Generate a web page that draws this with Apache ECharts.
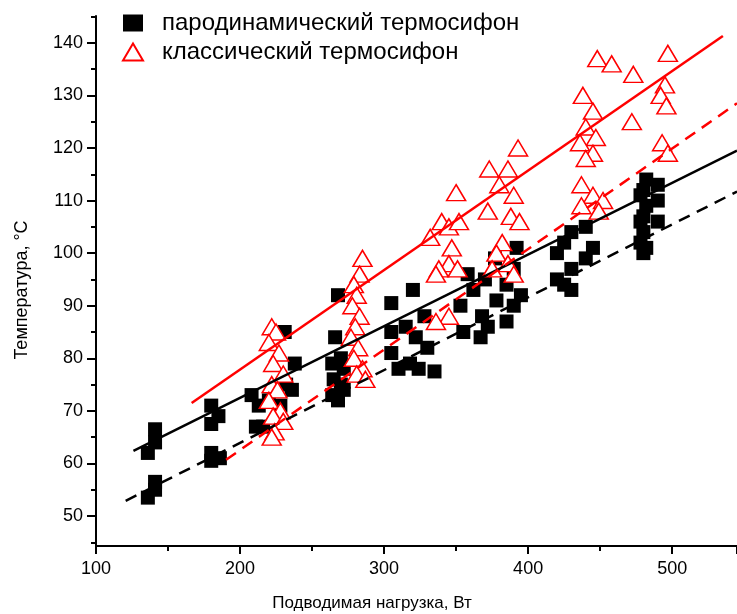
<!DOCTYPE html>
<html>
<head>
<meta charset="utf-8">
<script src="https://cdn.jsdelivr.net/npm/echarts@6/dist/echarts.min.js"></script>
<style>
  html, body { margin: 0; padding: 0; background: #fff; }
  #chart { width: 737px; height: 614px; }
</style>
</head>
<body>
<div id="chart"></div>
<script>
// пародинамический термосифон (black squares)
const paroLoad = [136, 141, 141, 141, 141, 136,
  180, 185, 180, 180, 180, 186,
  208, 213, 211, 216, 220,
  231, 238, 236, 232, 228,
  268, 266, 270, 264, 272, 265, 270, 264, 268, 272,
  320, 305, 328, 315, 305, 322, 330, 305, 318, 310, 324, 335,
  392, 377, 390, 358, 370, 385, 362, 395, 378, 353, 368, 385, 372, 355, 367, 390,
  440, 430, 425, 445, 420, 440, 430, 420, 425, 430,
  482, 480, 478, 482, 480, 478, 480, 478, 482, 480,
  490, 490, 490]
const paroTemp = [62, 66.5, 64, 56.5, 55, 53.5,
  71, 69, 67.5, 62, 60.5, 61,
  73, 71, 67, 67, 72,
  85, 79, 74, 75, 71,
  92, 84, 80, 79, 78, 76, 75, 73, 72, 74,
  93, 90.5, 88, 86, 85, 84, 82, 81, 79, 78, 78, 77.5,
  101, 99, 97, 96, 95, 94, 93, 92, 91, 90, 88, 87, 86, 85, 84, 90,
  105, 104, 102, 101, 100, 99, 97, 95, 94, 93,
  114, 112, 111, 109, 107, 106, 104, 102, 101, 100,
  113, 110, 106]

// классический термосифон (red triangles)
const classLoad = [222, 225, 220, 227, 223, 230, 222, 226, 220, 228, 223, 230, 224, 222,
  285, 283, 279, 281, 278, 283, 280, 277, 282, 279, 285, 281, 287,
  340, 345, 332, 347, 345, 338, 336, 345, 336,
  350, 352, 351,
  393, 373, 386, 380, 390, 372, 388, 394, 382, 378, 386, 375, 390,
  448, 458, 438, 445, 440, 447, 436, 445, 440, 437, 445, 452, 437, 449,
  473, 472,
  497, 495, 492, 496, 493, 497]
const classTemp = [86, 85, 83, 81, 79, 77, 75, 74, 72, 70, 69, 68, 66, 65,
  99, 96, 94, 92, 90, 88, 86, 84, 82, 80, 78, 77, 76,
  106, 105, 103, 101, 98, 97, 96, 88, 87,
  111.5, 106, 97,
  120, 116, 116, 113, 111, 108, 107, 106, 102, 100, 98, 97, 96,
  137, 136, 130, 127, 124, 122, 121, 119, 118, 113, 111, 110, 109, 108,
  134, 125,
  138, 132, 130, 128, 121, 119]

// fitted lines, end points
const paroFit = [[126, 62.4], [545, 119.5]]
const paroFitLow = [[120.6, 52.9], [545, 111.7]]
const classFit = [[166.4, 71.5], [535.2, 141.3]]
const classFitLow = [[190.3, 60.7], [545, 128.5]]

const xTicks = [100, 200, 300, 400, 500]
const yTicks = [50, 60, 70, 80, 90, 100, 110, 120, 130, 140]
const yMinorTicks = [45, 55, 65, 75, 85, 95, 105, 115, 125, 135, 145]

const names = ['пародинамический термосифон', 'классический термосифон']
const font = 'Liberation Sans, Arial, sans-serif'

const zip = (a, b) => a.map((v, i) => [v, b[i]])

const chart = echarts.init(document.getElementById('chart'))
chart.setOption({
  animation: false,
  backgroundColor: '#fff',
  textStyle: { fontFamily: font },
  grid: { left: 96, right: 0, top: 16, bottom: 68 },
  legend: {
    data: names,
    orient: 'vertical',
    left: 117,
    top: 6,
    itemWidth: 20,
    itemHeight: 17,
    itemGap: 5,
    textStyle: { fontSize: 24, color: '#000', fontFamily: font, padding: [0, 0, 0, 14] }
  },
  xAxis: {
    type: 'value',
    min: 100,
    max: 545,
    interval: 100,
    splitLine: { show: false },
    axisLine: { lineStyle: { color: '#000', width: 2 } },
    axisTick: { length: 8, lineStyle: { color: '#000', width: 2 } },
    minorTick: { show: true, splitNumber: 2, length: 5, lineStyle: { color: '#000', width: 2 } },
    axisLabel: { color: '#000', fontSize: 18, margin: 14, customValues: xTicks }
  },
  yAxis: [{
    type: 'value',
    min: 44.3,
    max: 145.1,
    splitLine: { show: false },
    axisLine: { lineStyle: { color: '#000', width: 2 } },
    axisTick: { length: 9, lineStyle: { color: '#000', width: 2 }, customValues: yTicks },
    axisLabel: { color: '#000', fontSize: 18, margin: 13, customValues: yTicks }
  }, {
    type: 'value',
    min: 44.3,
    max: 145.1,
    position: 'left',
    splitLine: { show: false },
    axisLine: { show: false },
    axisTick: { length: 5, lineStyle: { color: '#000', width: 2 }, customValues: yMinorTicks },
    axisLabel: { show: false }
  }],
  graphic: [{
    type: 'text',
    x: 372,
    y: 603,
    style: { text: 'Подводимая нагрузка, Вт', font: '17px ' + font, fill: '#000', textAlign: 'center', textVerticalAlign: 'middle' }
  }, {
    type: 'text',
    x: 22,
    y: 290,
    rotation: Math.PI / 2,
    style: { text: 'Температура, °C', font: '18px ' + font, fill: '#000', textAlign: 'center', textVerticalAlign: 'middle' }
  }],
  series: [{
    name: names[0],
    type: 'scatter',
    symbol: 'rect',
    symbolSize: 14,
    itemStyle: { color: '#000', opacity: 1 },
    data: zip(paroLoad, paroTemp)
  }, {
    name: names[1],
    type: 'scatter',
    symbol: 'triangle',
    symbolSize: [19, 16],
    itemStyle: { color: '#fff', borderColor: '#ff0000', borderWidth: 1.5, opacity: 1 },
    data: zip(classLoad, classTemp)
  }, {
    type: 'line',
    showSymbol: false,
    z: 5,
    lineStyle: { color: '#000', width: 2.5 },
    data: paroFit
  }, {
    type: 'line',
    showSymbol: false,
    z: 5,
    lineStyle: { color: '#000', width: 2.5, type: [12, 8] },
    data: paroFitLow
  }, {
    type: 'line',
    showSymbol: false,
    z: 5,
    lineStyle: { color: '#ff0000', width: 2.5 },
    data: classFit
  }, {
    type: 'line',
    showSymbol: false,
    z: 5,
    lineStyle: { color: '#ff0000', width: 2.5, type: [12, 8] },
    data: classFitLow
  }]
})
</script>
</body>
</html>
